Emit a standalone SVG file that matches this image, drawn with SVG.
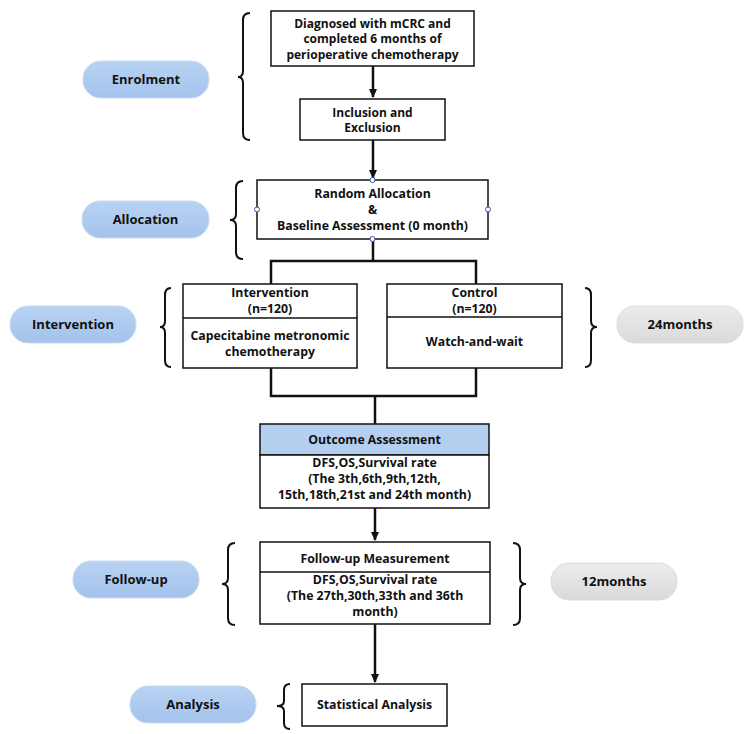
<svg xmlns="http://www.w3.org/2000/svg" width="750" height="734" viewBox="0 0 750 734">
<defs>
<style>
text{font-family:"Open Sans","Noto Sans","Liberation Sans",sans-serif;font-weight:bold;font-size:12.3px;fill:#111;text-anchor:middle}
.pt{font-size:13px}
.sm{font-size:12px}
.box{fill:#fff;stroke:#111;stroke-width:1.5}
.line{stroke:#111;stroke-width:2.5;fill:none}
.brace{stroke:#111;stroke-width:2;fill:none}
.blue{fill:url(#gb);stroke:#c9dcf3;stroke-width:1}
.gray{fill:url(#gg);stroke:#dcdcdc;stroke-width:1}
.hdr{fill:#b4cff0;stroke:#111;stroke-width:1.5}
.hnd{fill:#fff;stroke:#2f55b0;stroke-width:1}
</style>
<linearGradient id="gb" x1="0" y1="0" x2="0" y2="1"><stop offset="0" stop-color="#b8d2f2"/><stop offset="1" stop-color="#a4c3ec"/></linearGradient>
<linearGradient id="gg" x1="0" y1="0" x2="0" y2="1"><stop offset="0" stop-color="#ececec"/><stop offset="1" stop-color="#dadada"/></linearGradient>
<marker id="ah" markerWidth="10" markerHeight="10" refX="8" refY="5" orient="auto" markerUnits="userSpaceOnUse"><path d="M0,1 L9,5 L0,9 z" fill="#111"/></marker>
</defs>
<rect width="750" height="734" fill="#fff"/>

<g id="connectors">
<line class="line" x1="373" y1="66" x2="373" y2="97" marker-end="url(#ah)"/>
<line class="line" x1="373" y1="140" x2="373" y2="178" marker-end="url(#ah)"/>
<polyline class="line" points="373,239 373,261"/>
<polyline class="line" points="271,284 271,261 476,261 476,284"/>
<polyline class="line" points="271,368 271,396 476,396 476,368"/>
<line class="line" x1="375" y1="396" x2="375" y2="424"/>
<line class="line" x1="375" y1="508" x2="375" y2="540" marker-end="url(#ah)"/>
<line class="line" x1="375" y1="624" x2="375" y2="682" marker-end="url(#ah)"/>
</g>

<g id="braces">
<path class="brace" d="M250,13 Q243,13 243,20 L243,71 Q243,77 238,77 Q243,77 243,83 L243,133 Q243,140 250,140"/>
<path class="brace" d="M243,181 Q236,181 236,188 L236,214 Q236,220 230,220 Q236,220 236,226 L236,252 Q236,259 243,259"/>
<path class="brace" d="M171,288 Q165,288 165,295 L165,321 Q165,327 160,327 Q165,327 165,333 L165,360 Q165,367 171,367"/>
<path class="brace" d="M585,288 Q591,288 591,295 L591,321 Q591,327 597,327 Q591,327 591,333 L591,360 Q591,367 585,367"/>
<path class="brace" d="M235,543 Q228,543 228,550 L228,578 Q228,584 222,584 Q228,584 228,590 L228,618 Q228,625 235,625"/>
<path class="brace" d="M513,543 Q520,543 520,550 L520,578 Q520,584 526,584 Q520,584 520,590 L520,618 Q520,625 513,625"/>
<path class="brace" d="M290,684 Q284,684 284,690 L284,701 Q284,706 277,706 Q284,706 284,711 L284,723 Q284,729 290,729"/>
</g>

<g id="n-diagnosed">
<rect class="box" x="271" y="11" width="203" height="55"/>
<text class="sm" x="372.5" y="27.5">Diagnosed with mCRC and</text>
<text class="sm" x="372.5" y="43">completed 6 months of</text>
<text class="sm" x="372.5" y="58.5">perioperative chemotherapy</text>
</g>
<g id="n-inclusion">
<rect class="box" x="300" y="99" width="145" height="41"/>
<text class="sm" x="372.5" y="116.5">Inclusion and</text>
<text class="sm" x="372.5" y="132">Exclusion</text>
</g>
<g id="n-random">
<rect class="box" x="257" y="180" width="231" height="59"/>
<text x="372.5" y="198">Random Allocation</text>
<text x="372.5" y="214">&amp;</text>
<text x="372.5" y="230">Baseline Assessment  (0 month)</text>
<circle class="hnd" cx="372.5" cy="180" r="2.5"/>
<circle class="hnd" cx="372.5" cy="239" r="2.5"/>
<circle class="hnd" cx="257" cy="209.5" r="2.5"/>
<circle class="hnd" cx="488" cy="209.5" r="2.5"/>
</g>
<g id="n-intervention">
<rect class="box" x="183" y="284" width="174" height="84"/>
<line x1="183" y1="318" x2="357" y2="318" stroke="#111" stroke-width="1.5"/>
<text x="270" y="297">Intervention</text>
<text x="270" y="313">(n=120)</text>
<text x="270" y="340">Capecitabine metronomic</text>
<text x="270" y="356">chemotherapy</text>
</g>
<g id="n-control">
<rect class="box" x="387" y="284" width="175" height="84"/>
<line x1="387" y1="317" x2="562" y2="317" stroke="#111" stroke-width="1.5"/>
<text x="474.5" y="297">Control</text>
<text x="474.5" y="313">(n=120)</text>
<text x="474.5" y="346">Watch-and-wait</text>
</g>
<g id="n-outcome">
<rect class="hdr" x="260" y="424" width="229" height="31"/>
<rect class="box" x="260" y="455" width="229" height="53"/>
<text x="374.5" y="444">Outcome Assessment</text>
<text x="374.5" y="467">DFS,OS,Survival rate</text>
<text x="374.5" y="483">(The 3th,6th,9th,12th,</text>
<text x="374.5" y="499">15th,18th,21st and 24th month)</text>
</g>
<g id="n-followup">
<rect class="box" x="260" y="542" width="230" height="82"/>
<line x1="260" y1="572" x2="490" y2="572" stroke="#111" stroke-width="1.5"/>
<text x="375" y="563">Follow-up Measurement</text>
<text x="375" y="584">DFS,OS,Survival rate</text>
<text x="375" y="600">(The 27th,30th,33th and 36th</text>
<text x="375" y="616">month)</text>
</g>
<g id="n-statistical">
<rect class="box" x="302" y="684" width="145" height="42"/>
<text x="374.5" y="709">Statistical Analysis</text>
</g>

<g id="p-enrolment"><rect class="blue" x="83" y="61" width="126" height="37" rx="18"/><text class="pt" x="146" y="84">Enrolment</text></g>
<g id="p-allocation"><rect class="blue" x="82" y="201" width="127" height="37" rx="18"/><text class="pt" x="145.5" y="224">Allocation</text></g>
<g id="p-intervention"><rect class="blue" x="10" y="306" width="126" height="37" rx="18"/><text class="pt" x="73" y="329">Intervention</text></g>
<g id="p-24months"><rect class="gray" x="617" y="306" width="126" height="37" rx="18"/><text class="pt" x="680" y="329">24months</text></g>
<g id="p-followup"><rect class="blue" x="73" y="561" width="126" height="37" rx="18"/><text class="pt" x="136" y="584">Follow-up</text></g>
<g id="p-12months"><rect class="gray" x="551" y="563" width="126" height="37" rx="18"/><text class="pt" x="614" y="586">12months</text></g>
<g id="p-analysis"><rect class="blue" x="130" y="686" width="126" height="37" rx="18"/><text class="pt" x="193" y="709">Analysis</text></g>
</svg>
